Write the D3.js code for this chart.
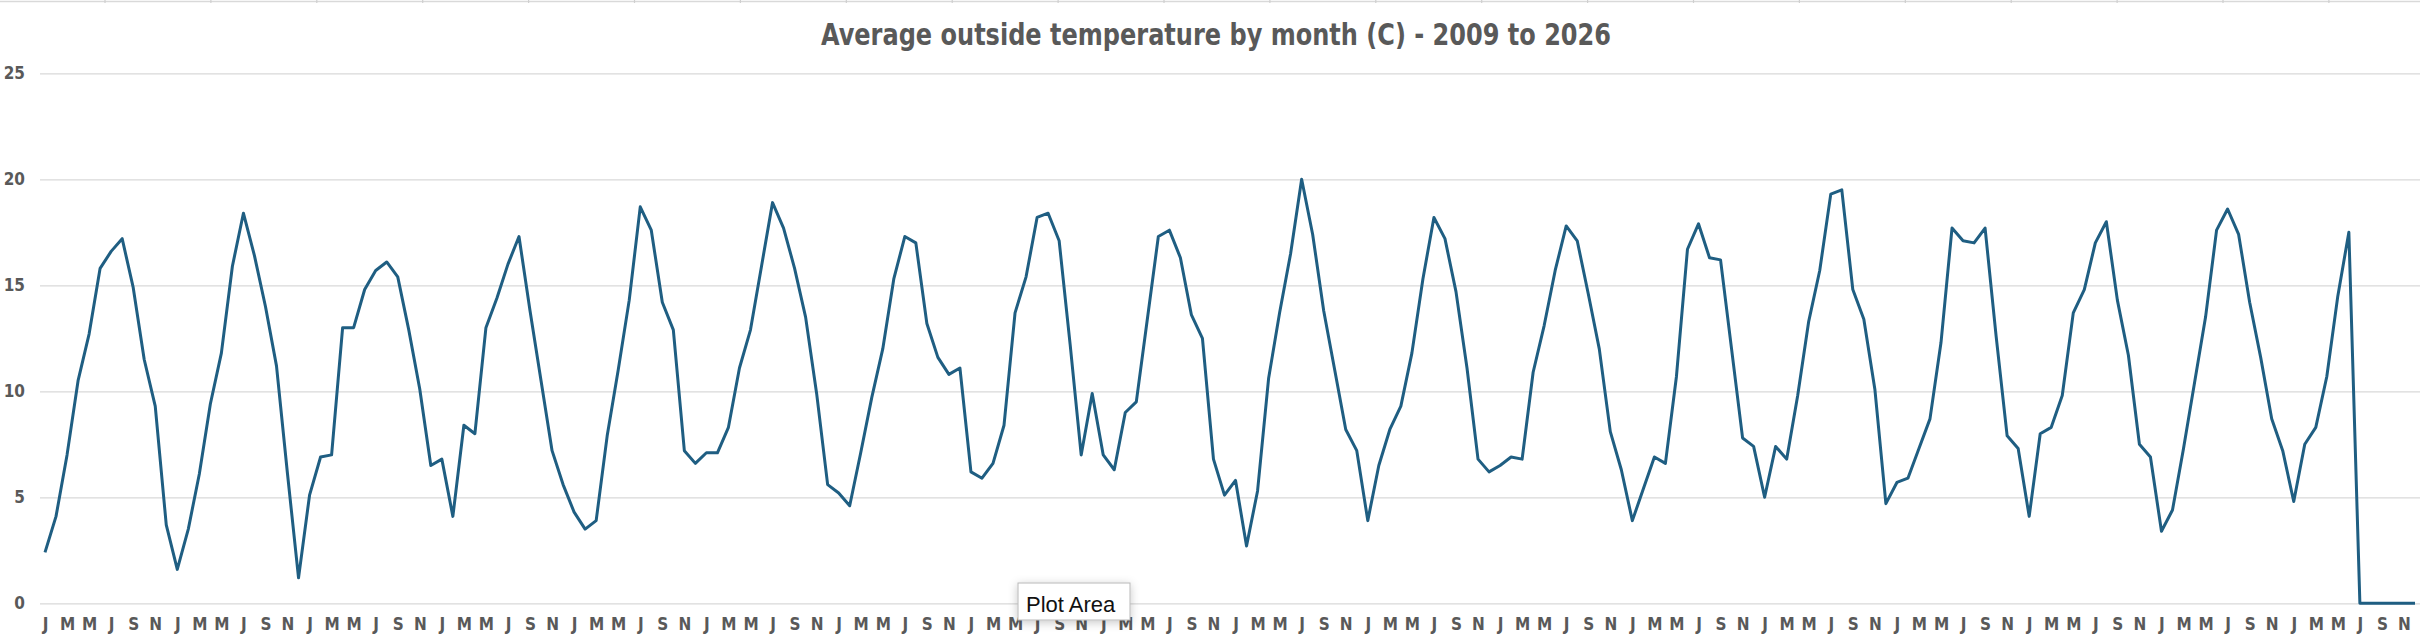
<!DOCTYPE html>
<html>
<head>
    <meta charset="UTF-8">
    <title>Average outside temperature</title>
    <script src="https://cdn.jsdelivr.net/npm/d3@7"></script>
    <style>
        html, body { margin: 0; padding: 0; background: #fff; }
        .lbl { font-family: "Liberation Sans Narrow", "Arial Narrow", "DejaVu Sans Condensed", sans-serif; font-weight: bold; fill: #595959; }
    </style>
</head>
<body>
<div id="chart"></div>
<script>
    // month letters used on the category axis
    var monthLetters = ['J','F','M','A','M','J','J','A','S','O','N','D'];
    var years = [2009,2010,2011,2012,2013,2014,2015,2016,2017,2018,2019,2020,2021,2022,2023,2024,2025,2026];
    var yTicks = [0,5,10,15,20,25];

    // average temperature (C) per month, one array per year
    var t2009 = [2.4, 4.1, 7.0, 10.5, 12.7, 15.8, 16.6, 17.2, 14.9, 11.5, 9.3, 3.7];
    var t2010 = [1.6, 3.5, 6.1, 9.4, 11.8, 15.9, 18.4, 16.4, 14.0, 11.2, 6.1, 1.2];
    var t2011 = [5.1, 6.9, 7.0, 13.0, 13.0, 14.8, 15.7, 16.1, 15.4, 12.9, 10.1, 6.5];
    var t2012 = [6.8, 4.1, 8.4, 8.0, 13.0, 14.4, 16.0, 17.3, 13.8, 10.5, 7.2, 5.6];
    var t2013 = [4.3, 3.5, 3.9, 7.9, 11.0, 14.3, 18.7, 17.6, 14.2, 12.9, 7.2, 6.6];
    var t2014 = [7.1, 7.1, 8.3, 11.1, 12.9, 15.9, 18.9, 17.7, 15.8, 13.5, 9.9, 5.6];
    var t2015 = [5.2, 4.6, 7.1, 9.7, 12.0, 15.3, 17.3, 17.0, 13.2, 11.6, 10.8, 11.1];
    var t2016 = [6.2, 5.9, 6.6, 8.4, 13.7, 15.4, 18.2, 18.4, 17.1, 12.2, 7.0, 9.9];
    var t2017 = [7.0, 6.3, 9.0, 9.5, 13.4, 17.3, 17.6, 16.3, 13.6, 12.5, 6.8, 5.1];
    var t2018 = [5.8, 2.7, 5.3, 10.6, 13.7, 16.5, 20.0, 17.4, 13.8, 11.0, 8.2, 7.2];
    var t2019 = [3.9, 6.5, 8.2, 9.3, 11.8, 15.3, 18.2, 17.2, 14.7, 11.1, 6.8, 6.2];
    var t2020 = [6.5, 6.9, 6.8, 10.9, 13.1, 15.7, 17.8, 17.1, 14.6, 12.0, 8.1, 6.3];
    var t2021 = [3.9, 5.4, 6.9, 6.6, 10.7, 16.7, 17.9, 16.3, 16.2, 12.0, 7.8, 7.4];
    var t2022 = [5.0, 7.4, 6.8, 9.8, 13.3, 15.7, 19.3, 19.5, 14.8, 13.4, 10.1, 4.7];
    var t2023 = [5.7, 5.9, 7.3, 8.7, 12.3, 17.7, 17.1, 17.0, 17.7, 12.6, 7.9, 7.3];
    var t2024 = [4.1, 8.0, 8.3, 9.8, 13.7, 14.8, 17.0, 18.0, 14.3, 11.7, 7.5, 6.9];
    var t2025 = [3.4, 4.4, 7.3, 10.4, 13.5, 17.6, 18.6, 17.4, 14.2, 11.6, 8.7, 7.2];
    var t2026 = [4.8, 7.5, 8.3, 10.7, 14.5, 17.5, 0, 0, 0, 0, 0, 0];

    var yearly = [t2009,t2010,t2011,t2012,t2013,t2014,t2015,t2016,t2017,t2018,t2019,t2020,t2021,t2022,t2023,t2024,t2025,t2026];

    var data = [];
    years.forEach(function(yr, yi){
        yearly[yi].forEach(function(v, m){
            data.push({idx: data.length, year: yr, month: m, label: monthLetters[m], value: v});
        });
    });

    var W = 2420, H = 644;
    var svg = d3.select('#chart').append('svg')
            .attr('width', W)
            .attr('height', H);

    var defs = svg.append('defs');
    var f = defs.append('filter').attr('id','shadow')
            .attr('x','-30%').attr('y','-50%').attr('width','160%').attr('height','200%');
    f.append('feDropShadow').attr('dx',0).attr('dy',2).attr('stdDeviation',5)
            .attr('flood-color','#000').attr('flood-opacity',0.22);

    svg.append('rect').attr('width', W).attr('height', H).attr('fill','#fff');

    // thin sheet edge at the very top
    svg.append('line').attr('x1',0).attr('x2',W).attr('y1',1.5).attr('y2',1.5)
            .attr('stroke','#d9d9d9').attr('stroke-width',1.5);
    svg.selectAll('.colsep').data(d3.range(105, W, 105.9)).enter()
            .append('line').attr('class','colsep')
            .attr('x1',function(d){ return d; }).attr('x2',function(d){ return d; })
            .attr('y1',0).attr('y2',3)
            .attr('stroke','#cfcfcf').attr('stroke-width',1.2);

    var x = d3.scalePoint()
            .domain(data.map(function(d){ return d.idx; }))
            .range([45, 2415]);
    var y = d3.scaleLinear()
            .domain([0, 25])
            .range([603.3, 73.3]);

    // y axis with gridlines
    var gy = svg.append('g')
            .attr('transform','translate(40,0)')
            .call(d3.axisLeft(y).tickValues(yTicks).tickSizeInner(-(W - 40)).tickSizeOuter(0).tickPadding(15));
    gy.select('.domain').remove();
    gy.selectAll('line').attr('stroke','#d9d9d9').attr('stroke-width',1.2);
    gy.selectAll('text').attr('class','lbl').style('font-size','17px').attr('fill',null);

    // x axis, every other month label
    var gx = svg.append('g')
            .attr('transform','translate(0,' + y(0) + ')')
            .call(d3.axisBottom(x)
                    .tickValues(data.filter(function(d){ return d.idx % 2 === 0; }).map(function(d){ return d.idx; }))
                    .tickFormat(function(i){ return data[i].label; })
                    .tickSize(0).tickPadding(14.5));
    gx.select('.domain').remove();
    gx.selectAll('text').attr('class','lbl').style('font-size','17px').attr('fill',null);

    // the line
    var line = d3.line()
            .x(function(d){ return x(d.idx); })
            .y(function(d){ return y(d.value); });
    svg.append('path')
            .datum(data)
            .attr('d', line)
            .attr('fill','none')
            .attr('stroke','#1f5e82')
            .attr('stroke-width',3)
            .attr('stroke-linejoin','round');

    // title
    var title = svg.append('text')
            .attr('class','lbl')
            .attr('x', 1216)
            .attr('y', 45)
            .attr('text-anchor','middle')
            .style('font-size','31px')
            .text('Average outside temperature by month (C) - 2009 to 2026');
    var tl = title.node().getComputedTextLength();
    if (Math.abs(tl - 790) > 20) {
        title.attr('textLength', 790).attr('lengthAdjust','spacingAndGlyphs');
    }

    // hover tooltip seen in the capture
    var tip = svg.append('g').attr('transform','translate(1018,583)');
    tip.append('rect')
            .attr('width',112).attr('height',37)
            .attr('fill','#fff').attr('stroke','#b8b8b8').attr('stroke-width',1)
            .attr('filter','url(#shadow)');
    tip.append('text')
            .attr('x',8).attr('y',29)
            .style('font-family','"Liberation Sans", Arial, sans-serif')
            .style('font-size','22px')
            .attr('fill','#111')
            .text('Plot Area');
</script>
</body>
</html>
